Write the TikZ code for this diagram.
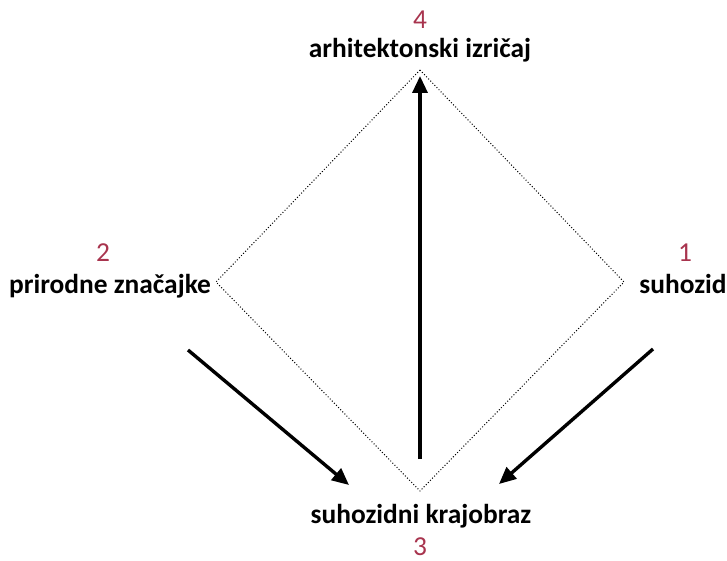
\documentclass[tikz,border=0pt]{standalone}
\usepackage{fontspec}
\setmainfont{Carlito}
\usetikzlibrary{arrows.meta}
\definecolor{numred}{RGB}{168,52,78}
\tikzset{
  lbl/.style={font=\bfseries\fontsize{27.5}{30}\selectfont, text=black, inner sep=0pt, anchor=base, text height=0.7em, text depth=0.2em},
  num/.style={font=\fontsize{27.5}{30}\selectfont, text=numred, inner sep=0pt, anchor=base, text height=0.63em, text depth=0pt},
  dia/.style={draw, dotted, line width=1pt},
  arr/.style={line width=3.4pt, -{Triangle[length=17pt,width=15pt]}},
}
\begin{document}
\begin{tikzpicture}[x=1bp,y=-1bp]
\useasboundingbox (0,0) rectangle (727,561);
\coordinate (T) at (420,70);
\coordinate (L) at (216,282);
\coordinate (R) at (624,282);
\coordinate (B) at (420,491);
\draw[dia] (T) -- (R) -- (B) -- (L) -- cycle;
\node[num] (n4) at (420,29) {4};
\node[lbl] (t4) at (420,58) {arhitektonski izričaj};
\node[num] (n2) at (103,262) {2};
\node[lbl] (t2) at (110,293) {prirodne značajke};
\node[num] (n1) at (685,262) {1};
\node[lbl] (t1) at (683,293) {suhozid};
\node[lbl] (t3) at (421,523) {suhozidni krajobraz};
\node[num] (n3) at (420,555) {3};
\coordinate (a1s) at (420,459);
\coordinate (a1e) at (420,76);
\coordinate (a2s) at (188,350);
\coordinate (a2e) at (349,485);
\coordinate (a3s) at (653,349);
\coordinate (a3e) at (499,484);
\draw[arr] (a1s) -- (a1e);
\draw[arr] (a2s) -- (a2e);
\draw[arr] (a3s) -- (a3e);
\end{tikzpicture}
\end{document}
